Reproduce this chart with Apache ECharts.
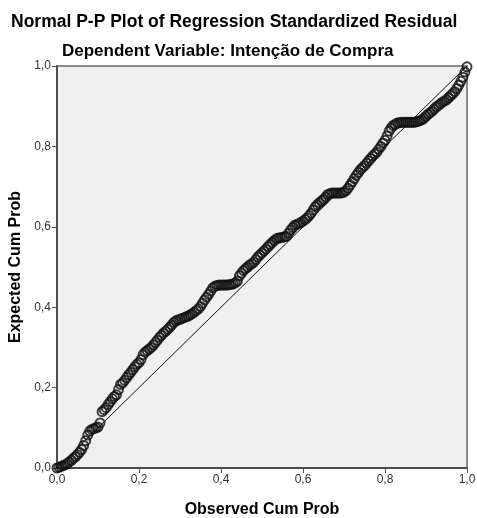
<!DOCTYPE html>
<html>
<head>
<meta charset="utf-8">
<script src="https://cdn.jsdelivr.net/npm/echarts@6/dist/echarts.min.js"></script>
<style>
  html, body { margin: 0; padding: 0; background: #fff; }
  #chart { width: 477px; height: 518px; }
</style>
</head>
<body>
<div id="chart"></div>
<script>
// observed cum prob (x) and expected cum prob (y)
var observed = [
  0.000, 0.005, 0.010, 0.015, 0.020, 0.025, 0.030, 0.035, 0.040, 0.045,
  0.050, 0.055, 0.060, 0.065, 0.070, 0.075, 0.080, 0.085, 0.090, 0.095,
  0.100, 0.105, 0.110, 0.115, 0.120, 0.125, 0.130, 0.135, 0.140, 0.145,
  0.150, 0.155, 0.160, 0.165, 0.170, 0.175, 0.180, 0.185, 0.190, 0.195,
  0.200, 0.205, 0.210, 0.215, 0.220, 0.225, 0.230, 0.235, 0.240, 0.245,
  0.250, 0.255, 0.260, 0.265, 0.270, 0.275, 0.280, 0.285, 0.290, 0.295,
  0.300, 0.305, 0.310, 0.315, 0.320, 0.325, 0.330, 0.335, 0.340, 0.345,
  0.350, 0.355, 0.360, 0.365, 0.370, 0.375, 0.380, 0.385, 0.390, 0.395,
  0.400, 0.405, 0.410, 0.415, 0.420, 0.425, 0.430, 0.435, 0.440, 0.445,
  0.450, 0.455, 0.460, 0.465, 0.470, 0.475, 0.480, 0.485, 0.490, 0.495,
  0.500, 0.505, 0.510, 0.515, 0.520, 0.525, 0.530, 0.535, 0.540, 0.545,
  0.550, 0.555, 0.560, 0.565, 0.570, 0.575, 0.580, 0.585, 0.590, 0.595,
  0.600, 0.605, 0.610, 0.615, 0.620, 0.625, 0.630, 0.635, 0.640, 0.645,
  0.650, 0.655, 0.660, 0.665, 0.670, 0.675, 0.680, 0.685, 0.690, 0.695,
  0.700, 0.705, 0.710, 0.715, 0.720, 0.725, 0.730, 0.735, 0.740, 0.745,
  0.750, 0.755, 0.760, 0.765, 0.770, 0.775, 0.780, 0.785, 0.790, 0.795,
  0.800, 0.805, 0.810, 0.815, 0.820, 0.825, 0.830, 0.835, 0.840, 0.845,
  0.850, 0.855, 0.860, 0.865, 0.870, 0.875, 0.880, 0.885, 0.890, 0.895,
  0.900, 0.905, 0.910, 0.915, 0.920, 0.925, 0.930, 0.935, 0.940, 0.945,
  0.950, 0.955, 0.960, 0.965, 0.970, 0.975, 0.980, 0.985, 0.990, 0.995,
  1.000
]
var expected = [
  0.000, 0.002, 0.004, 0.006, 0.008, 0.011, 0.015, 0.019, 0.024, 0.028,
  0.033, 0.039, 0.046, 0.056, 0.068, 0.082, 0.092, 0.096, 0.098, 0.100,
  0.102, 0.112, 0.140, 0.145, 0.150, 0.158, 0.165, 0.172, 0.178, 0.182,
  0.195, 0.208, 0.212, 0.218, 0.225, 0.232, 0.238, 0.245, 0.252, 0.258,
  0.262, 0.270, 0.282, 0.288, 0.292, 0.296, 0.300, 0.306, 0.312, 0.318,
  0.325, 0.330, 0.336, 0.340, 0.345, 0.350, 0.356, 0.362, 0.366, 0.368,
  0.370, 0.372, 0.374, 0.376, 0.378, 0.381, 0.384, 0.388, 0.392, 0.396,
  0.402, 0.410, 0.418, 0.425, 0.432, 0.440, 0.448, 0.452, 0.454, 0.455,
  0.455, 0.455, 0.455, 0.455, 0.456, 0.457, 0.458, 0.461, 0.465, 0.478,
  0.485, 0.491, 0.496, 0.500, 0.505, 0.508, 0.512, 0.518, 0.525, 0.530,
  0.535, 0.540, 0.545, 0.551, 0.556, 0.561, 0.566, 0.570, 0.572, 0.573,
  0.574, 0.575, 0.576, 0.584, 0.592, 0.598, 0.604, 0.606, 0.608, 0.611,
  0.614, 0.618, 0.622, 0.628, 0.634, 0.642, 0.650, 0.655, 0.660, 0.664,
  0.668, 0.674, 0.680, 0.682, 0.684, 0.684, 0.684, 0.684, 0.684, 0.685,
  0.686, 0.690, 0.696, 0.704, 0.712, 0.720, 0.728, 0.735, 0.742, 0.747,
  0.752, 0.758, 0.764, 0.770, 0.776, 0.781, 0.786, 0.793, 0.800, 0.808,
  0.815, 0.826, 0.838, 0.846, 0.852, 0.855, 0.858, 0.859, 0.860, 0.860,
  0.860, 0.860, 0.860, 0.860, 0.860, 0.861, 0.862, 0.864, 0.866, 0.870,
  0.875, 0.880, 0.884, 0.888, 0.893, 0.898, 0.902, 0.906, 0.910, 0.913,
  0.916, 0.921, 0.926, 0.931, 0.936, 0.944, 0.952, 0.962, 0.972, 0.985,
  0.998
]
var refLine = [[0, 0], [1, 1]]

var points = observed.map(function (x, i) { return [x, expected[i]] })
var fmt = function (v) { return v.toFixed(1).replace('.', ',') }
var font = '"Liberation Sans", Arial, sans-serif'

var axisCommon = {
  type: 'value',
  min: 0,
  max: 1,
  interval: 0.2,
  nameLocation: 'middle',
  nameTextStyle: { fontFamily: font, fontSize: 16, fontWeight: 'bold', color: '#000' },
  axisLine: { show: true, lineStyle: { color: '#4d4d4d', width: 2 } },
  axisTick: { show: true, length: 5, lineStyle: { color: '#4d4d4d', width: 1 } },
  axisLabel: { fontFamily: font, fontSize: 12, color: '#333', formatter: fmt, margin: 6 },
  splitLine: { show: false },
}

var chart = echarts.init(document.getElementById('chart'))
chart.setOption({
  animation: false,
  backgroundColor: '#fff',
  title: [
    {
      text: 'Normal P-P Plot of Regression Standardized Residual',
      left: 6,
      top: 8,
      textStyle: { fontFamily: font, fontSize: 17.5, fontWeight: 'bold', color: '#000' },
    },
    {
      text: 'Dependent Variable: Intenção de Compra',
      left: 57,
      top: 38,
      textStyle: { fontFamily: font, fontSize: 17, fontWeight: 'bold', color: '#000' },
    },
  ],
  grid: {
    left: 57,
    right: 10,
    top: 66,
    bottom: 50,
    outerBoundsMode: 'none',
    show: true,
    backgroundColor: '#f0f0f0',
    borderColor: '#8a8a8a',
    borderWidth: 2,
  },
  xAxis: Object.assign({}, axisCommon, { name: 'Observed Cum Prob', nameGap: 34 }),
  yAxis: Object.assign({}, axisCommon, { name: 'Expected Cum Prob', nameGap: 33 }),
  series: [
    {
      type: 'line',
      data: refLine,
      symbol: 'none',
      silent: true,
      lineStyle: { color: '#111', width: 1 },
      z: 2,
    },
    {
      type: 'scatter',
      data: points,
      symbol: 'circle',
      symbolSize: 9,
      itemStyle: { color: 'rgba(0,0,0,0)', borderColor: '#111', borderWidth: 2 },
      z: 3,
    },
  ],
})
</script>
</body>
</html>
